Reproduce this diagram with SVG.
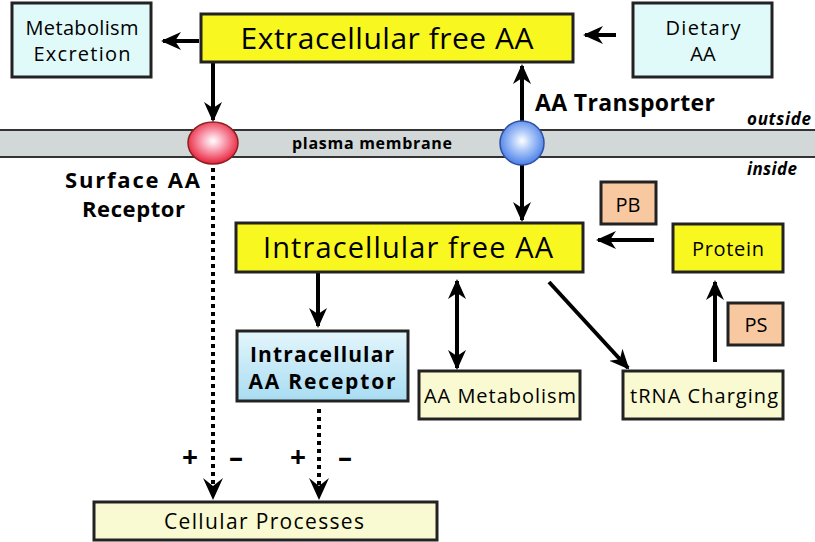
<svg xmlns="http://www.w3.org/2000/svg" width="815" height="542" viewBox="0 0 815 542">
<defs>
<radialGradient id="gRed" cx="0.5" cy="0.45" r="0.55">
<stop offset="0" stop-color="#ffffff"/><stop offset="0.35" stop-color="#fbb0c0"/><stop offset="1" stop-color="#e8203a"/>
</radialGradient>
<radialGradient id="gBlue" cx="0.5" cy="0.45" r="0.55">
<stop offset="0" stop-color="#ffffff"/><stop offset="0.35" stop-color="#b8d0fa"/><stop offset="1" stop-color="#4a80e8"/>
</radialGradient>
<linearGradient id="gRec" x1="0" y1="0" x2="0" y2="1">
<stop offset="0" stop-color="#e4f6fc"/><stop offset="1" stop-color="#a8dcf2"/>
</linearGradient>
<marker id="ah" viewBox="0 0 20 20" refX="18" refY="10" markerWidth="20" markerHeight="20" markerUnits="userSpaceOnUse" orient="auto-start-reverse">
<path d="M0,1 L20,10 L0,19 L6,10 Z" fill="#000"/>
</marker>
</defs>
<style>
.box{stroke:#222;stroke-width:3}
.yel{fill:#f8f820}
.cyan{fill:#e0fafa}
.cream{fill:#fafad2}
.peach{fill:#f8c8a0}
text{font-family:"Comic Sans MS","Open Sans","DejaVu Sans",sans-serif;fill:#000}
.c{text-anchor:middle}
.b{font-weight:bold}
.ln{stroke:#000;stroke-width:4;fill:none}
.dot{stroke:#000;stroke-width:4;fill:none;stroke-dasharray:4 4}
</style>
<rect width="815" height="542" fill="#fff"/>
<g id="membrane">
<rect x="-2" y="130" width="819" height="27" fill="#d2d8d8" stroke="#333" stroke-width="2"/>
<text x="372" y="149" class="c b" font-size="16" textLength="160" lengthAdjust="spacing">plasma membrane</text>
<text x="811" y="125" text-anchor="end" class="b" font-style="italic" font-size="17" textLength="64" lengthAdjust="spacing">outside</text>
<text x="797" y="175" text-anchor="end" class="b" font-style="italic" font-size="17" textLength="50" lengthAdjust="spacing">inside</text>
</g>
<g id="connectors">
<line class="ln" x1="199" y1="41" x2="163" y2="41" marker-end="url(#ah)"/>
<line class="ln" x1="616" y1="35" x2="585" y2="35" marker-end="url(#ah)"/>
<line class="ln" x1="213" y1="62" x2="213" y2="120" marker-end="url(#ah)"/>
<line class="ln" x1="522" y1="122" x2="522" y2="66" marker-end="url(#ah)"/>
<line class="ln" x1="522" y1="165" x2="522" y2="220" marker-end="url(#ah)"/>
<line class="ln" x1="318" y1="272" x2="318" y2="326" marker-end="url(#ah)"/>
<line class="ln" x1="457" y1="281" x2="457" y2="368" marker-start="url(#ah)" marker-end="url(#ah)"/>
<line class="ln" x1="549" y1="282" x2="628" y2="368" marker-end="url(#ah)"/>
<line class="ln" x1="715" y1="362" x2="715" y2="282" marker-end="url(#ah)"/>
<line class="ln" x1="654" y1="240" x2="598" y2="240" marker-end="url(#ah)"/>
<line class="dot" x1="213" y1="168" x2="213" y2="486"/>
<path d="M203,478 L213,500 L223,478 L213,486 Z" fill="#000"/>
<line class="dot" x1="319" y1="409" x2="319" y2="486"/>
<path d="M309,478 L319,500 L329,478 L319,486 Z" fill="#000"/>
<text x="190" y="467" class="c b" font-size="28">+</text>
<text x="236" y="467" class="c b" font-size="28">–</text>
<text x="298" y="467" class="c b" font-size="28">+</text>
<text x="345" y="467" class="c b" font-size="28">–</text>
</g>
<g id="surface-receptor">
<ellipse cx="213" cy="143" rx="25" ry="21" fill="url(#gRed)" stroke="#8a2020" stroke-width="1.5"/>
<text x="200" y="188" text-anchor="end" class="b" font-size="22" textLength="135" lengthAdjust="spacing">Surface AA</text>
<text x="185" y="217" text-anchor="end" class="b" font-size="22" textLength="103" lengthAdjust="spacing">Receptor</text>
</g>
<g id="transporter">
<ellipse cx="522" cy="143" rx="22" ry="22" fill="url(#gBlue)" stroke="#3050a0" stroke-width="1.5"/>
<text x="535" y="111" class="b" font-size="23" textLength="180" lengthAdjust="spacing">AA Transporter</text>
</g>
<g id="metabolism-excretion">
<rect x="12" y="3" width="139" height="74" class="box cyan"/>
<text x="82" y="35" class="c" font-size="20" textLength="113" lengthAdjust="spacing">Metabolism</text>
<text x="82" y="61" class="c" font-size="20" textLength="97" lengthAdjust="spacing">Excretion</text>
</g>
<g id="extracellular">
<rect x="201" y="14" width="372" height="48" class="box yel"/>
<text x="387" y="49" class="c" font-size="30" textLength="293" lengthAdjust="spacing">Extracellular free AA</text>
</g>
<g id="dietary">
<rect x="633" y="3" width="139" height="74" class="box cyan"/>
<text x="703" y="35" class="c" font-size="20" textLength="75" lengthAdjust="spacing">Dietary</text>
<text x="703" y="61" class="c" font-size="20">AA</text>
</g>
<g id="intracellular">
<rect x="236" y="223" width="347" height="49" class="box yel"/>
<text x="408" y="258" class="c" font-size="29" textLength="290" lengthAdjust="spacing">Intracellular free AA</text>
</g>
<g id="pb">
<rect x="601" y="182" width="55" height="42" class="box peach"/>
<text x="628" y="212" class="c" font-size="20">PB</text>
</g>
<g id="protein">
<rect x="673" y="224" width="110" height="48" class="box yel"/>
<text x="728" y="256" class="c" font-size="20" textLength="72" lengthAdjust="spacing">Protein</text>
</g>
<g id="ps">
<rect x="728" y="303" width="55" height="42" class="box peach"/>
<text x="756" y="332" class="c" font-size="20">PS</text>
</g>
<g id="aa-metabolism">
<rect x="419" y="371" width="161" height="48" class="box cream"/>
<text x="500" y="403" class="c" font-size="20" textLength="152" lengthAdjust="spacing">AA Metabolism</text>
</g>
<g id="trna">
<rect x="623" y="371" width="160" height="48" class="box cream"/>
<text x="704" y="403" class="c" font-size="20" textLength="148" lengthAdjust="spacing">tRNA Charging</text>
</g>
<g id="intracellular-receptor">
<rect x="237" y="331" width="171" height="70" class="box" fill="url(#gRec)"/>
<text x="322" y="362" class="c b" font-size="21" textLength="144" lengthAdjust="spacing">Intracellular</text>
<text x="322" y="389" class="c b" font-size="21" textLength="147" lengthAdjust="spacing">AA Receptor</text>
</g>
<g id="cellular-processes">
<rect x="94" y="502" width="343" height="38" class="box cream"/>
<text x="264" y="529" class="c" font-size="21" textLength="200" lengthAdjust="spacing">Cellular Processes</text>
</g>
</svg>
